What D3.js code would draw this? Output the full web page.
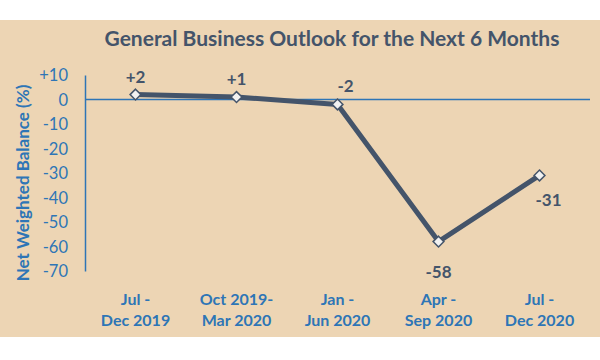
<!DOCTYPE html>
<html>
<head>
<meta charset="utf-8">
<script src="https://cdn.jsdelivr.net/npm/d3@7"></script>
<style>
  html, body { margin: 0; padding: 0; background: #ffffff; }
  svg { display: block; }
  text { font-family: Lato, "Open Sans", sans-serif; }
</style>
</head>
<body>
<svg id="chart" width="600" height="360"></svg>
<script>
const categories = [["Jul -", "Dec 2019"], ["Oct 2019-", "Mar 2020"], ["Jan -", "Jun 2020"], ["Apr -", "Sep 2020"], ["Jul -", "Dec 2020"]];
const values = [2, 1, -2, -58, -31];
const valueLabels = ["+2", "+1", "-2", "-58", "-31"];
const yTicks = [10, 0, -10, -20, -30, -40, -50, -60, -70];
const yTickLabels = ["+10", "0", "-10", "-20", "-30", "-40", "-50", "-60", "-70"];

const svg = d3.select("#chart");
const W = 600, H = 360;
const bg = "#EDD5B4";
const blue = "#2E75B6";
const dark = "#44546A";

svg.append("rect").attr("x", 0).attr("y", 20).attr("width", W).attr("height", 317).attr("fill", bg);

const x = d3.scalePoint().domain(d3.range(categories.length)).range([85, 590]).padding(0.5);
const y = d3.scaleLinear().domain([-70, 10]).range([271, 75]);

// title
svg.append("text").attr("x", 332).attr("y", 46).attr("text-anchor", "middle")
  .attr("font-size", 21).attr("font-weight", 700).attr("fill", dark)
  .text("General Business Outlook for the Next 6 Months");

// y axis
const yAxis = d3.axisLeft(y).tickValues(yTicks).tickSize(0).tickPadding(17)
  .tickFormat((d, i) => yTickLabels[i]);
const gy = svg.append("g").attr("transform", "translate(85,0)").call(yAxis);
gy.select(".domain").attr("stroke", blue).attr("stroke-width", 1.5);
gy.selectAll("text").attr("fill", blue).attr("font-size", 16.5).attr("font-family", "Lato, sans-serif").attr("dy", "0.35em");

// zero line
svg.append("line").attr("x1", 85).attr("x2", 590).attr("y1", y(0)).attr("y2", y(0))
  .attr("stroke", blue).attr("stroke-width", 1.5);

// y axis title
svg.append("text").attr("transform", `translate(29,${(y(10) + y(-70)) / 2 + 10}) rotate(-90)`)
  .attr("text-anchor", "middle").attr("font-size", 17).attr("font-weight", 700).attr("fill", blue)
  .text("Net Weighted Balance (%)");

// x labels
const xl = svg.append("g");
categories.forEach((c, i) => {
  const t = xl.append("text").attr("x", x(i)).attr("y", 305).attr("text-anchor", "middle")
    .attr("font-size", 16).attr("font-weight", 700).attr("fill", blue);
  t.append("tspan").attr("x", x(i)).attr("y", 305).text(c[0]);
  t.append("tspan").attr("x", x(i)).attr("y", 326).text(c[1]);
});

// line
const line = d3.line().x((d, i) => x(i)).y(d => y(d));
svg.append("path").datum(values).attr("d", line).attr("fill", "none")
  .attr("stroke", dark).attr("stroke-width", 5).attr("stroke-linejoin", "round");

// markers
svg.selectAll(".mk").data(values).enter().append("path").attr("class", "mk")
  .attr("d", d3.symbol().type(d3.symbolDiamond2).size(75))
  .attr("transform", (d, i) => `translate(${x(i)},${y(d)})`)
  .attr("fill", "#F2F2F2").attr("stroke", dark).attr("stroke-width", 1.5);

// data labels
const labelOffsets = [-12, -12, -12, 36, 31];
svg.selectAll(".dl").data(values).enter().append("text").attr("class", "dl")
  .attr("x", (d, i) => x(i) + (i === 2 ? 8 : (i === 4 ? 9 : 0)))
  .attr("y", (d, i) => y(d) + labelOffsets[i])
  .attr("text-anchor", "middle").attr("font-size", 17).attr("font-weight", 700).attr("fill", dark)
  .text((d, i) => valueLabels[i]);
</script>
</body>
</html>
